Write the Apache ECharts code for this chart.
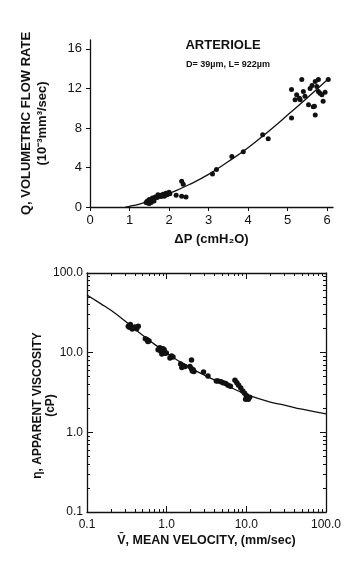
<!DOCTYPE html>
<html>
<head>
<meta charset="utf-8">
<script src="https://cdn.jsdelivr.net/npm/echarts@6/dist/echarts.min.js"></script>
<style>
html,body{margin:0;padding:0;background:#fff;}
#c{width:359px;height:576px;}
</style>
</head>
<body>
<div id="c"></div>
<script>
// ---------- Top chart: Q vs ΔP ----------
const topXTicks = [0, 1, 2, 3, 4, 5, 6];
const topYTicks = [0, 4, 8, 12, 16];
const topDP = [1.42,1.45,1.48,1.5,1.52,1.55,1.58,1.6,1.65,1.7,1.75,1.78,1.8,1.85,1.9,1.92,1.95,2.0,2.02,1.5,1.55,1.62,1.46,1.72,1.88,
  2.18,2.32,2.43,2.32,2.36,3.1,3.2,3.59,3.88,4.37,4.51,
  5.1,5.36,5.23,5.19,5.32,5.4,5.57,5.7,5.78,6.03,5.87,5.9,5.53,5.65,5.7,5.1,5.78,5.44,5.62,5.82,5.74,5.95,5.3,5.68];
const topQ = [0.45,0.6,0.5,0.75,0.55,0.7,0.9,0.8,1.0,0.95,1.1,1.2,1.05,1.3,1.2,1.4,1.25,1.5,1.35,0.35,0.45,0.6,0.4,1.25,1.1,
  1.2,1.1,1.0,2.6,2.3,3.35,3.8,5.1,5.6,7.3,6.9,
  11.9,12.9,11.35,10.85,10.85,11.7,12.0,12.7,12.9,12.9,11.35,10.7,10.35,10.15,9.3,9.0,11.7,11.2,12.3,11.5,12.2,11.6,11.0,10.2];
const topCurveDP = [0.9,1.0,1.25,1.5,1.75,2.0,2.5,3.0,3.5,4.0,4.5,5.0,5.5,6.0];
const topCurveQ  = [0,0.07,0.3,0.6,0.95,1.35,2.25,3.3,4.6,6.0,7.6,9.3,11.05,12.85];

// ---------- Bottom chart: viscosity vs velocity (log-log) ----------
const botMajor = [0.1, 1, 10, 100];
const botXMinor = [0.2,0.3,0.4,0.5,0.6,0.7,0.8,0.9,2,3,4,5,6,7,8,9,20,30,40,50,60,70,80,90];
const botYMinor = [0.2,0.3,0.4,0.5,0.6,0.7,0.8,0.9,2,3,4,5,6,7,8,9,20,30,40,50,60,70,80,90];
const botV = [0.33,0.35,0.36,0.38,0.40,0.42,0.37,0.34,0.44,
  0.54,0.57,0.6,0.58,
  0.82,0.85,0.88,0.9,0.92,0.95,0.87,0.84,0.93,0.99,0.78,
  1.15,1.2,1.1,
  1.5,1.6,1.7,1.55,
  2.05,1.96,2.05,2.15,2.2,2.1,
  2.9,3.3,4.2,4.4,4.8,5.1,5.5,5.9,6.3,
  7.2,7.6,8.0,8.5,9.0,9.5,10.0,10.5,10.2,11.0,9.8,10.6];
const botEta = [21.5,22.5,21.0,20.5,21.0,20.0,19.8,20.8,21.5,
  15.0,14.5,14.0,13.8,
  11.5,10.8,10.2,11.2,10.0,9.8,9.6,10.5,10.9,9.9,10.9,
  9.1,8.8,8.6,
  7.2,6.9,6.7,6.5,
  8.1,6.7,6.3,6.1,5.8,5.9,
  5.7,5.1,4.4,4.4,4.3,4.2,4.1,3.9,3.8,
  4.5,4.2,3.9,3.6,3.3,3.1,2.9,2.7,2.8,2.75,2.6,2.6];
const botCurveV   = [0.1,0.15,0.2,0.3,0.5,0.7,1.0,1.5,2,3,5,7,10,20,30,50,100];
const botCurveEta = [53,41,34,25,16.5,12.8,9.8,7.6,6.4,5.2,4.1,3.5,3.0,2.4,2.2,1.95,1.7];

const FONT = 'Liberation Sans, Arial, Helvetica, sans-serif';
const INK = '#111';

function pairs(a, b) { return a.map((v, i) => [v, b[i]]); }
function logFmt(v) { return v < 1 ? String(+v.toFixed(1)) : v.toFixed(1); }

const lineStyle = { color: INK, width: 1.3 };

// Tick-only helper axes on a linear log10 scale (decades -1..2)
function tickAxis(pos, vals, len) {
  return {
    type: 'value', gridIndex: 1, position: pos, min: -1, max: 2, offset: 0, z: 5,
    splitLine: { show: false },
    axisLine: { show: false, onZero: false },
    axisTick: { show: true, inside: true, length: len, customValues: vals.map(v => Math.log10(v)), lineStyle: { color: '#121212', width: 1 } },
    axisLabel: { show: false }
  };
}
function frameAxis(pos, extra) {
  return Object.assign({
    type: 'log', logBase: 10, gridIndex: 1, position: pos, min: 0.1, max: 100,
    splitLine: { show: false }, minorTick: { show: false },
    axisLine: { show: true, lineStyle: lineStyle, onZero: false },
    axisTick: { show: false },
    axisLabel: { show: false }
  }, extra || {});
}

const option = {
  backgroundColor: '#ffffff',
  animation: false,
  textStyle: { fontFamily: FONT, color: INK },
  grid: [
    { left: 90, top: 40, width: 243, height: 167 },
    { left: 87, top: 273, width: 239, height: 239 }
  ],
  graphic: [
    { type: 'text', x: 223, y: 45, style: { text: 'ARTERIOLE', align: 'center', verticalAlign: 'middle', font: 'bold 13px ' + FONT, fill: INK } },
    { type: 'text', x: 228, y: 65, style: { text: 'D= 39µm, L= 922µm', align: 'center', verticalAlign: 'middle', font: 'bold 9px ' + FONT, fill: INK } }
  ],
  xAxis: [
    {
      type: 'value', gridIndex: 0, min: 0, max: 6.15,
      splitLine: { show: false },
      axisLine: { show: true, lineStyle: lineStyle, onZero: false },
      axisTick: { show: true, inside: false, length: 4, customValues: topXTicks, lineStyle: { color: INK } },
      axisLabel: { customValues: topXTicks, fontSize: 13, color: INK, margin: 7, fontFamily: FONT },
      name: 'ΔP (cmH₂O)', nameLocation: 'middle', nameGap: 26,
      nameTextStyle: { fontSize: 13, fontWeight: 'bold', color: INK, fontFamily: FONT }
    },
    frameAxis('bottom', {
      axisLabel: { show: true, customValues: botMajor, formatter: logFmt, fontSize: 12, color: INK, margin: 7, fontFamily: FONT },
      name: 'V̄, MEAN VELOCITY, (mm/sec)', nameLocation: 'middle', nameGap: 22,
      nameTextStyle: { fontSize: 12.5, fontWeight: 'bold', color: INK, fontFamily: FONT }
    }),
    frameAxis('top'),
    tickAxis('bottom', botMajor, 6),
    tickAxis('bottom', botXMinor, 3),
    tickAxis('top', botMajor, 6),
    tickAxis('top', botXMinor, 3)
  ],
  yAxis: [
    {
      type: 'value', gridIndex: 0, min: 0, max: 16.9,
      splitLine: { show: false },
      axisLine: { show: true, lineStyle: lineStyle, onZero: false },
      axisTick: { show: true, inside: false, length: 4, customValues: topYTicks, lineStyle: { color: INK } },
      axisLabel: { customValues: topYTicks, fontSize: 13, color: INK, margin: 8, fontFamily: FONT },
      name: 'Q, VOLUMETRIC FLOW RATE\n(10⁻³mm³/sec)', nameLocation: 'middle', nameRotate: 90, nameGap: 40,
      nameTextStyle: { fontSize: 13, fontWeight: 'bold', color: INK, lineHeight: 16, align: 'center', fontFamily: FONT }
    },
    frameAxis('left', {
      axisLabel: { show: true, customValues: botMajor, formatter: logFmt, fontSize: 12, color: INK, margin: 4, fontFamily: FONT },
      name: 'η, APPARENT VISCOSITY\n(cP)', nameLocation: 'middle', nameRotate: 90, nameGap: 30, nameMoveOverlap: false,
      nameTextStyle: { fontSize: 12, fontWeight: 'bold', color: INK, lineHeight: 13, align: 'center', fontFamily: FONT, padding: [0, 26, 0, 0] }
    }),
    frameAxis('right'),
    tickAxis('left', botMajor, 6),
    tickAxis('left', botYMinor, 3),
    tickAxis('right', botMajor, 6),
    tickAxis('right', botYMinor, 3)
  ],
  series: [
    { type: 'line', xAxisIndex: 0, yAxisIndex: 0, data: pairs(topCurveDP, topCurveQ), smooth: true, showSymbol: false, lineStyle: lineStyle, z: 3 },
    { type: 'scatter', xAxisIndex: 0, yAxisIndex: 0, data: pairs(topDP, topQ), symbolSize: 5, itemStyle: { color: INK, opacity: 1 }, z: 4 },
    { type: 'line', xAxisIndex: 1, yAxisIndex: 1, data: pairs(botCurveV, botCurveEta), smooth: true, showSymbol: false, lineStyle: lineStyle, z: 3 },
    { type: 'scatter', xAxisIndex: 1, yAxisIndex: 1, data: pairs(botV, botEta), symbolSize: 5.5, itemStyle: { color: INK, opacity: 1 }, z: 4 }
  ]
};

const chart = echarts.init(document.getElementById('c'), null, { renderer: 'canvas' });
chart.setOption(option);
</script>
</body>
</html>
